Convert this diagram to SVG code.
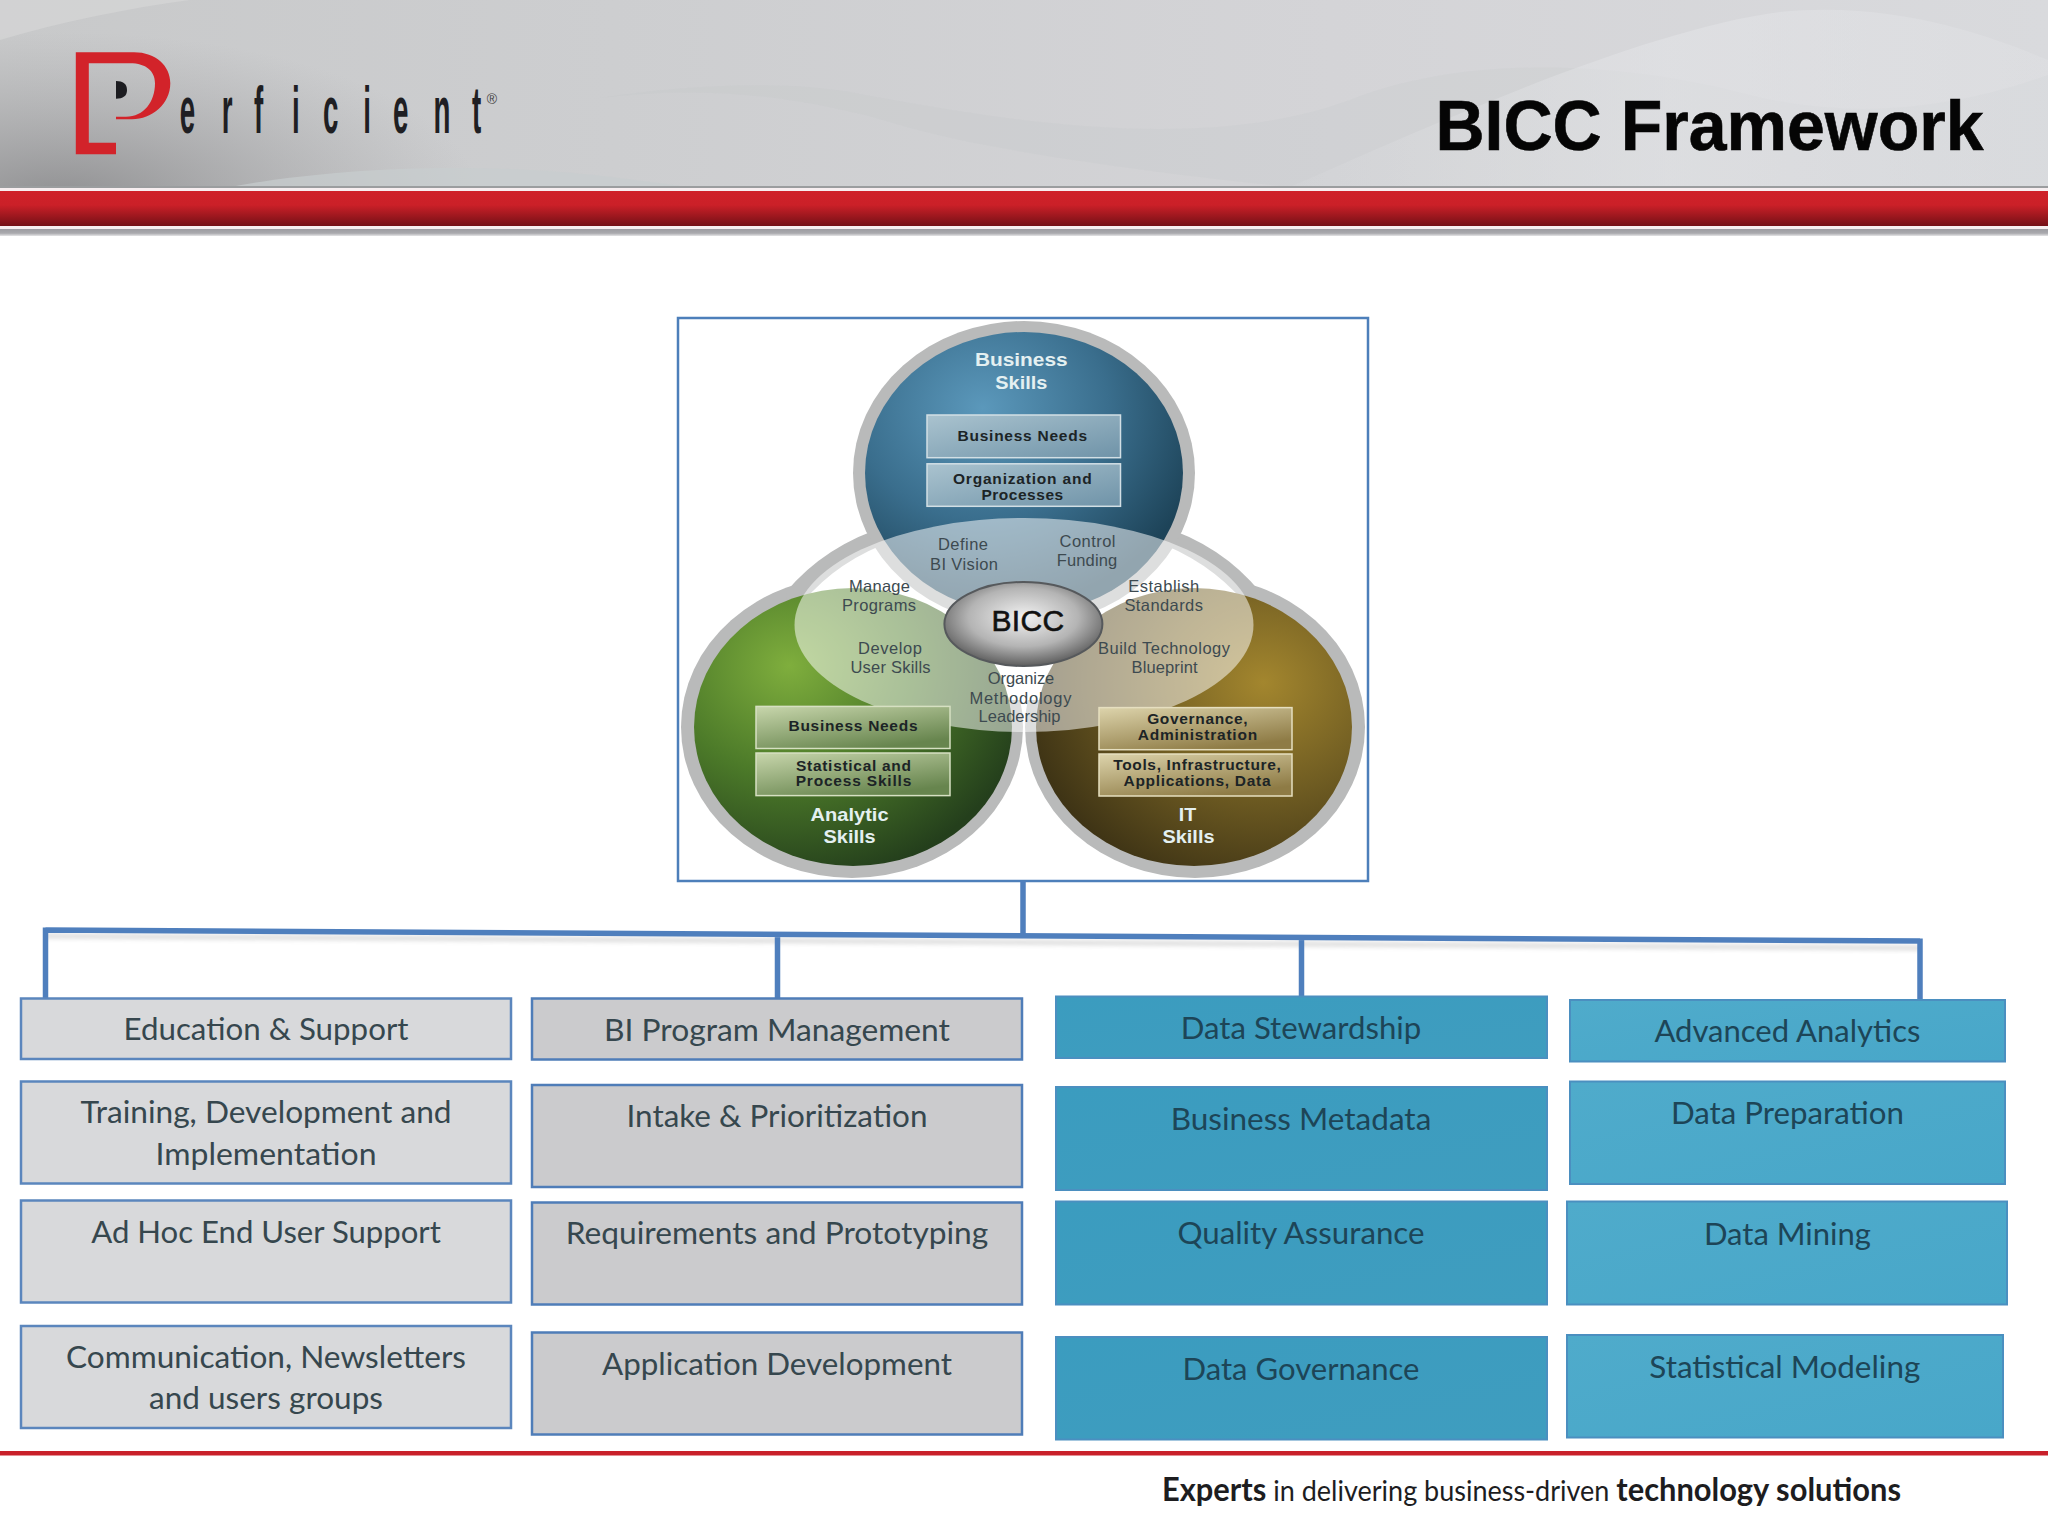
<svg xmlns="http://www.w3.org/2000/svg" width="2048" height="1536" viewBox="0 0 2048 1536">
<style>
text{font-family:"Liberation Sans",Arial,sans-serif;text-anchor:middle}
.bx{stroke-width:2.5}
.tx{stroke-width:2}
.g1{fill:#d8d9db;stroke:#5b86bd}
.g2{fill:#cbcbcd;stroke:#4f7db8}
.t3{fill:url(#teal3);stroke:#4b8fc0}
.t4{fill:url(#teal4);stroke:#4b8fc0}
.lb{font-family:Lato,"Liberation Sans",sans-serif;font-size:30px;fill:#36474e}
.lt{font-family:Lato,"Liberation Sans",sans-serif;font-size:30px;fill:#1d4557}
.ring{fill:#b9baba}
.sm{font-size:16.5px;fill:#3d4a50}
.hd{font-size:19px;font-weight:bold;fill:#e4f0f1}
.in{font-size:15.5px;font-weight:bold;fill:#1c2426}
.conn{fill:none;stroke:#4f7fbd;stroke-width:5.5}
.shadow{fill:none;stroke:#8a8a8a;stroke-width:5;opacity:.28;filter:url(#soft)}
</style>
<defs>
<filter id="soft" x="-5%" y="-50%" width="110%" height="200%"><feGaussianBlur stdDeviation="2"/></filter>
<linearGradient id="hdr" x1="0" y1="0" x2="1" y2="0"><stop offset="0" stop-color="#c8c9ca"/><stop offset=".3" stop-color="#cdced0"/><stop offset=".65" stop-color="#d4d4d7"/><stop offset="1" stop-color="#d9dadd"/></linearGradient>
<radialGradient id="hdrDark" gradientUnits="userSpaceOnUse" cx="60" cy="200" r="420" gradientTransform="translate(0 120) scale(1 .4)"><stop offset="0" stop-color="#858587" stop-opacity=".85"/><stop offset="1" stop-color="#a0a0a2" stop-opacity="0"/></radialGradient>
<linearGradient id="sw" x1="0" y1="0" x2="1" y2="0"><stop offset="0" stop-color="#e4e5e8" stop-opacity=".1"/><stop offset=".5" stop-color="#e4e5e8" stop-opacity=".55"/><stop offset="1" stop-color="#e4e5e8" stop-opacity=".3"/></linearGradient>
<linearGradient id="red" x1="0" y1="0" x2="0" y2="1"><stop offset="0" stop-color="#cf2129"/><stop offset=".4" stop-color="#cb2028"/><stop offset="1" stop-color="#741016"/></linearGradient>
<linearGradient id="gl" x1="0" y1="0" x2="0" y2="1"><stop offset="0" stop-color="#9c9ca1"/><stop offset=".6" stop-color="#aaaaae"/><stop offset="1" stop-color="#e4e4e6"/></linearGradient>
<linearGradient id="teal3" x1="0" y1="0" x2="1" y2="1"><stop offset="0" stop-color="#3b9cbf"/><stop offset="1" stop-color="#3f9dbf"/></linearGradient>
<linearGradient id="teal4" x1="0" y1="0" x2="1" y2="1"><stop offset="0" stop-color="#4fabcb"/><stop offset="1" stop-color="#48a7c9"/></linearGradient>
<radialGradient id="blue" cx=".37" cy=".27" r=".72"><stop offset="0" stop-color="#5b98bb"/><stop offset=".55" stop-color="#3a6e8d"/><stop offset="1" stop-color="#1d4358"/></radialGradient>
<radialGradient id="green" cx=".3" cy=".28" r=".78"><stop offset="0" stop-color="#7fae3d"/><stop offset=".5" stop-color="#4c7a29"/><stop offset="1" stop-color="#243f1c"/></radialGradient>
<radialGradient id="gold" cx=".72" cy=".34" r=".8"><stop offset="0" stop-color="#a3862e"/><stop offset=".5" stop-color="#6f5c22"/><stop offset="1" stop-color="#3a3014"/></radialGradient>
<radialGradient id="core" cx=".5" cy=".42" r=".58"><stop offset="0" stop-color="#f2f2f2"/><stop offset=".6" stop-color="#b4b4b4"/><stop offset="1" stop-color="#5e5e5e"/></radialGradient>
<linearGradient id="bBox" x1="0" y1="0" x2="1" y2="1"><stop offset="0" stop-color="#aac3cf"/><stop offset="1" stop-color="#6f93a8"/></linearGradient>
<linearGradient id="gBox" x1="0" y1="0" x2=".6" y2="1"><stop offset="0" stop-color="#c8d6ac"/><stop offset="1" stop-color="#67854e"/></linearGradient>
<linearGradient id="yBox" x1="0" y1="0" x2=".6" y2="1"><stop offset="0" stop-color="#ddd4ac"/><stop offset="1" stop-color="#8e7b45"/></linearGradient>
</defs>

<g id="header">
<rect x="0" y="0" width="2048" height="187" fill="url(#hdr)"/>
<rect x="0" y="0" width="800" height="187" fill="url(#hdrDark)"/>
<path d="M230 187C330 168 480 160 620 178L690 187Z" fill="#c8cdce" opacity=".7"/>
<path d="M600 98C700 85 800 95 900 125C1000 155 1200 178 1290 187H2048V75C1950 110 1850 120 1750 95C1600 55 1450 60 1350 100C1200 155 1000 120 850 92C780 80 680 85 600 98Z" fill="#bfc0c2" opacity=".15"/>
<path d="M1290 187C1420 130 1640 30 1780 12C1900 0 2000 40 2048 60V187Z" fill="url(#sw)"/>
<path d="M0 40C60 22 130 8 190 0H0Z" fill="#dcdcdc" opacity=".5"/>
<rect x="0" y="186" width="2048" height="2" fill="#9b9d9f"/>
<rect x="0" y="188" width="2048" height="3" fill="#f7eef0"/>
<rect x="0" y="191" width="2048" height="35" fill="url(#red)"/>
<rect x="0" y="226" width="2048" height="3" fill="#f6eff0"/>
<rect x="0" y="229" width="2048" height="7" fill="url(#gl)"/>
</g>

<g id="logo">
<path d="M75.8 52.3H134C156 52.3 170.3 66 170.3 83.3C170.3 104 152 119.3 132 119.3H116V116.7H126C144 116.7 155 102 155 83.3C155 71 146 63.3 130 63.3H88.8V142.7H116V154.3H75.8Z" fill="#d2232a"/>
<path d="M116 81C123 81 127 84 127 90C127 96 123 98.7 116 98.7Z" fill="#1c1c20"/>
<text id="logo-word" transform="translate(0 132.7) scale(.42 1)" x="428 528 605 695 769 865 936 1032 1124" y="0" style="text-anchor:start;font-size:66px;font-weight:bold;fill:#1f1f23">erficient</text>
<text x="492" y="104" style="font-size:14px;fill:#444">®</text>
</g>

<g id="title"><text x="1435.5" y="150" style="text-anchor:start;font-size:70px;font-weight:bold;fill:#050505;stroke:#050505;stroke-width:.6" textLength="548" lengthAdjust="spacingAndGlyphs">BICC Framework</text></g>

<g id="venn">
<rect x="678" y="318" width="690" height="563" fill="#fff" stroke="#4d7fba" stroke-width="2.5"/>
<ellipse class="ring" cx="852" cy="727" rx="171" ry="151"/>
<ellipse class="ring" cx="1195" cy="727" rx="170" ry="151"/>
<path d="M786 592Q825 545 890 525L1158 525Q1222 545 1260 592L1252 700H800Z" class="ring"/>
<path d="M803 602Q838 560 895 540L1152 540Q1208 560 1244 602L1244 700H803Z" fill="#fff"/>
<ellipse class="ring" cx="1024" cy="473" rx="171" ry="152"/>
<ellipse cx="1024" cy="473" rx="159" ry="141" fill="url(#blue)"/>
<ellipse cx="853" cy="727" rx="159" ry="139" fill="url(#green)"/>
<ellipse cx="1194" cy="727" rx="158" ry="139" fill="url(#gold)"/>
<ellipse id="overlap" cx="1024" cy="625" rx="229.5" ry="107" fill="#fff" opacity=".52"/>
</g>

<g id="business-skills">
<text class="hd" x="1021.3" y="366.2" textLength="92.7" lengthAdjust="spacingAndGlyphs">Business</text>
<text class="hd" x="1021.3" y="388.8" textLength="52" lengthAdjust="spacingAndGlyphs">Skills</text>
<rect x="927" y="415" width="193.5" height="42.7" fill="url(#bBox)" stroke="#d2dfe5" stroke-width="1.5"/>
<text class="in" x="1022.3" y="440.8" textLength="129.5" lengthAdjust="spacing">Business Needs</text>
<rect x="927" y="463.8" width="193.5" height="42.5" fill="url(#bBox)" stroke="#d2dfe5" stroke-width="1.5"/>
<text class="in" x="1022.3" y="484" textLength="138.7" lengthAdjust="spacing">Organization and</text>
<text class="in" x="1022.3" y="499.8" textLength="81.7" lengthAdjust="spacing">Processes</text>
</g>

<g id="analytic-skills">
<rect x="756" y="706.4" width="194" height="42.1" fill="url(#gBox)" stroke="#d6e0c2" stroke-width="1.5"/>
<text class="in" x="853" y="731.3" textLength="129" lengthAdjust="spacing">Business Needs</text>
<rect x="756" y="753" width="194" height="42.6" fill="url(#gBox)" stroke="#d6e0c2" stroke-width="1.5"/>
<text class="in" x="853.5" y="770.7" textLength="115" lengthAdjust="spacing">Statistical and</text>
<text class="in" x="853.5" y="786.4" textLength="115.7" lengthAdjust="spacing">Process Skills</text>
<text class="hd" x="849.6" y="821" textLength="78" lengthAdjust="spacingAndGlyphs">Analytic</text>
<text class="hd" x="849.6" y="843.4" textLength="52" lengthAdjust="spacingAndGlyphs">Skills</text>
</g>

<g id="it-skills">
<rect x="1099" y="707.6" width="193" height="42.1" fill="url(#yBox)" stroke="#e6dfc0" stroke-width="1.5"/>
<text class="in" x="1197.4" y="724" textLength="100.5" lengthAdjust="spacing">Governance,</text>
<text class="in" x="1197.4" y="740" textLength="119.4" lengthAdjust="spacing">Administration</text>
<rect x="1099" y="754" width="193" height="42" fill="url(#yBox)" stroke="#e6dfc0" stroke-width="1.5"/>
<text class="in" x="1197" y="770" textLength="167.6" lengthAdjust="spacing">Tools, Infrastructure,</text>
<text class="in" x="1197" y="786.4" textLength="147" lengthAdjust="spacing">Applications, Data</text>
<text class="hd" x="1187.5" y="821" textLength="17.4" lengthAdjust="spacingAndGlyphs">IT</text>
<text class="hd" x="1188.5" y="843.4" textLength="52" lengthAdjust="spacingAndGlyphs">Skills</text>
</g>

<g id="overlap-labels">
<text class="sm" x="963" y="550" textLength="50">Define</text>
<text class="sm" x="964" y="569.8" textLength="68">BI Vision</text>
<text class="sm" x="1087.5" y="546.8" textLength="56">Control</text>
<text class="sm" x="1087" y="566.4" textLength="60.6">Funding</text>
<text class="sm" x="879.5" y="591.6" textLength="61">Manage</text>
<text class="sm" x="879" y="611" textLength="74">Programs</text>
<text class="sm" x="1163.7" y="591.6" textLength="71">Establish</text>
<text class="sm" x="1163.7" y="611" textLength="78.5">Standards</text>
<text class="sm" x="890" y="654" textLength="64">Develop</text>
<text class="sm" x="890.5" y="673" textLength="80">User Skills</text>
<text class="sm" x="1164" y="654" textLength="132">Build Technology</text>
<text class="sm" x="1164.6" y="673" textLength="66">Blueprint</text>
<text class="sm" x="1021" y="683.8" textLength="66.6">Organize</text>
<text class="sm" x="1020.4" y="703.7" textLength="102">Methodology</text>
<text class="sm" x="1019.5" y="721.7" textLength="82">Leadership</text>
</g>

<g id="bicc">
<ellipse cx="1023.4" cy="624" rx="79" ry="42" fill="url(#core)" stroke="#56595c" stroke-width="2"/>
<text x="1027.8" y="630.7" style="font-size:30px;fill:#111;stroke:#111;stroke-width:.6" textLength="72.5">BICC</text>
</g>

<g id="connectors">
<path class="shadow" d="M46 936L1920 948"/>
<path class="conn" d="M1023 881V936M45.5 930L1920 941M45.5 927.5V998M777.5 933V998M1301.5 937V997M1920 938.5V1000"/>
</g>

<g id="education-support"><rect class="bx g1" x="21" y="998.5" width="490" height="60.5"/><text class="lb" x="266" y="1040" textLength="285" lengthAdjust="spacingAndGlyphs">Education &amp; Support</text></g>
<g id="training"><rect class="bx g1" x="21" y="1081.5" width="490" height="102"/><text class="lb" x="266" y="1123" textLength="371" lengthAdjust="spacingAndGlyphs">Training, Development and</text><text class="lb" x="266" y="1164.5" textLength="221" lengthAdjust="spacingAndGlyphs">Implementation</text></g>
<g id="adhoc"><rect class="bx g1" x="21" y="1200.5" width="490" height="102"/><text class="lb" x="266" y="1242.8" textLength="349.6" lengthAdjust="spacingAndGlyphs">Ad Hoc End User Support</text></g>
<g id="communication"><rect class="bx g1" x="21" y="1326" width="490" height="102"/><text class="lb" x="266" y="1367.8" textLength="400" lengthAdjust="spacingAndGlyphs">Communication, Newsletters</text><text class="lb" x="266" y="1409" textLength="234" lengthAdjust="spacingAndGlyphs">and users groups</text></g>

<g id="bi-program"><rect class="bx g2" x="532" y="998.5" width="490" height="61"/><text class="lb" x="777" y="1040.8" textLength="346" lengthAdjust="spacingAndGlyphs">BI Program Management</text></g>
<g id="intake"><rect class="bx g2" x="532" y="1085" width="490" height="102"/><text class="lb" x="777" y="1127" textLength="301" lengthAdjust="spacingAndGlyphs">Intake &amp; Prioritization</text></g>
<g id="requirements"><rect class="bx g2" x="532" y="1202.5" width="490" height="102"/><text class="lb" x="777" y="1244" textLength="422.6" lengthAdjust="spacingAndGlyphs">Requirements and Prototyping</text></g>
<g id="application"><rect class="bx g2" x="532" y="1332.5" width="490" height="102"/><text class="lb" x="777" y="1374.6" textLength="350" lengthAdjust="spacingAndGlyphs">Application Development</text></g>

<g id="data-stewardship"><rect class="tx t3" x="1056" y="996.5" width="491" height="61.5"/><text class="lt" x="1301" y="1039" textLength="240.6" lengthAdjust="spacingAndGlyphs">Data Stewardship</text></g>
<g id="business-metadata"><rect class="tx t3" x="1056" y="1087" width="491" height="103"/><text class="lt" x="1301" y="1129.6" textLength="260.7" lengthAdjust="spacingAndGlyphs">Business Metadata</text></g>
<g id="quality"><rect class="tx t3" x="1056" y="1201.5" width="491" height="103"/><text class="lt" x="1301" y="1244" textLength="247" lengthAdjust="spacingAndGlyphs">Quality Assurance</text></g>
<g id="data-governance"><rect class="tx t3" x="1056" y="1337" width="491" height="102.5"/><text class="lt" x="1301" y="1379.5" textLength="237" lengthAdjust="spacingAndGlyphs">Data Governance</text></g>

<g id="advanced-analytics"><rect class="tx t4" x="1570" y="1000" width="435" height="61.5"/><text class="lt" x="1787.4" y="1042.4" textLength="266" lengthAdjust="spacingAndGlyphs">Advanced Analytics</text></g>
<g id="data-preparation"><rect class="tx t4" x="1570" y="1081.5" width="435" height="102.5"/><text class="lt" x="1787.4" y="1124" textLength="233" lengthAdjust="spacingAndGlyphs">Data Preparation</text></g>
<g id="data-mining"><rect class="tx t4" x="1567" y="1201.5" width="440" height="103"/><text class="lt" x="1787.4" y="1244.8" textLength="167" lengthAdjust="spacingAndGlyphs">Data Mining</text></g>
<g id="statistical-modeling"><rect class="tx t4" x="1567" y="1335" width="436" height="102.5"/><text class="lt" x="1784.8" y="1377.5" textLength="271" lengthAdjust="spacingAndGlyphs">Statistical Modeling</text></g>

<g id="footer">
<rect x="0" y="1451" width="2048" height="4.5" fill="#c9202a"/>
<text x="1531.5" y="1501" style="font-family:Lato,'Liberation Sans',sans-serif;font-size:28px;fill:#1d1d1f" textLength="739" lengthAdjust="spacingAndGlyphs"><tspan font-weight="bold" font-size="32">Experts</tspan> in delivering business-driven <tspan font-weight="bold" font-size="32">technology solutions</tspan></text>
</g>
</svg>
